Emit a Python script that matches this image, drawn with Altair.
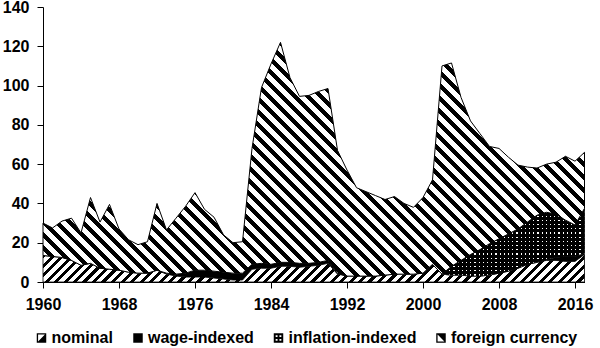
import altair as alt
import pandas as pd

# ---------------- data ----------------
years = list(range(1960, 2018))

# top of the whole stack (total)
total = [30, 27.5, 31, 32.5, 25, 43, 30.5, 39.5, 27, 21.5,
         19, 20.5, 40, 26.5, 32.5, 38.5, 45.5, 37, 33, 24,
         20, 20.5, 68, 99, 111, 122, 104, 94.5, 95, 97,
         98.5, 67, 57, 48, 46, 44, 42, 43.5, 40, 38,
         43, 52, 110, 111.5, 94, 82, 75.5, 69, 68, 63.5,
         59.5, 58.5, 58, 60, 61, 64, 61.5, 66]

nominal = [13.5, 13, 12.5, 11, 8.5, 9.5, 7, 6.5, 6, 5,
           4.5, 4.5, 6, 4, 3, 2.5, 2.5, 2.5, 2, 1.5,
           1, 1, 6.5, 7, 7, 8, 8, 7.5, 8, 8.5,
           9.5, 4, 3, 3, 3, 3, 3.5, 4, 4, 4,
           4.5, 9, 4, 3.5, 3.5, 3, 3, 3.5, 4.5, 5.5,
           7, 9, 10, 11, 11, 10.5, 10.5, 14]

wage = [0, 0, 0, 0, 0, 0, 0, 0, 0, 0,
        0, 0, 0, 0.5, 1, 2, 3.5, 3.5, 3.5, 3.5,
        3.5, 3.5, 2.5, 2.5, 2, 2, 2, 2, 1.5, 1.5,
        1.5, 0.5, 0, 0, 0, 0, 0, 0, 0, 0,
        0, 0, 0, 0, 0, 0, 0, 0, 0, 0,
        0, 0, 0, 0.5, 1.5, 2.5, 2.5, 0.5]

infl_years = list(range(2002, 2018))
inflation = [0, 4.5, 7.5, 11, 13.5, 16, 17.5, 19, 20, 21.5, 24, 24, 22, 18.5, 16, 23]

series_names = ["nominal", "wage-indexed", "inflation-indexed", "foreign currency"]
y_ticks = [0, 20, 40, 60, 80, 100, 120, 140]
x_ticks = [1960, 1968, 1976, 1984, 1992, 2000, 2008, 2016]

# ---------------- long table ----------------
infl_map = dict(zip(infl_years, inflation))
rows = []
for i, yr in enumerate(years):
    iv = infl_map.get(yr, 0)
    foreign = total[i] - nominal[i] - wage[i] - iv
    rows.append(dict(year=yr, series="nominal", value=nominal[i], order=0))
    rows.append(dict(year=yr, series="wage-indexed", value=wage[i], order=1))
    if yr in infl_map:
        rows.append(dict(year=yr, series="inflation-indexed", value=iv, order=2))
    rows.append(dict(year=yr, series="foreign currency", value=foreign, order=3))
df = pd.DataFrame(rows)

# ---------------- layout ----------------
PW, PH = 541.5, 275.0
YMAX = 140.0
XMIN, XMAX = 1960, 2017


def px_h(v):
    return v * PH / YMAX


def px_w(y0, y1):
    return (y1 - y0) * PW / (XMAX - XMIN)


# bounding boxes of each area (for sizing hatch gradients)
stack_low_foreign = [nominal[i] + wage[i] + infl_map.get(y, 0) for i, y in enumerate(years)]
foreign_W = px_w(years[0], years[-1])
foreign_H = px_h(max(total) - min(stack_low_foreign))
nominal_W = foreign_W
nominal_H = px_h(max(nominal))
infl_low = [nominal[years.index(y)] + wage[years.index(y)] for y in infl_years]
infl_high = [infl_low[k] + inflation[k] for k in range(len(infl_years))]
infl_W = px_w(infl_years[0], infl_years[-1])
infl_H = px_h(max(infl_high) - min(infl_low))

BLACK = "#000000"
WHITE = "#ffffff"
CLEAR = "rgba(0,0,0,0)"


def stripe_stops(n, frac, c1, c2):
    stops = []
    k = 0
    while k < n:
        a = k / n
        b = min((k + frac) / n, 1.0)
        c = min((k + 1) / n, 1.0)
        stops += [(a, c1), (b, c1), (b, c2), (c, c2)]
        k += 1
    return [alt.GradientStop(offset=round(o, 5), color=col) for o, col in stops]


def hatch(w, h, period, frac, kind):
    s = (w + h) / (w * w + h * h)
    n = (w + h) / period
    if kind == "down":  # "\" stripes
        x1, y1, x2, y2 = 0, 1, s * w, 1 - s * h
    else:  # "/" stripes
        x1, y1, x2, y2 = 0, 0, s * w, s * h
    return alt.LinearGradient(gradient="linear", x1=x1, y1=y1, x2=x2, y2=y2,
                              stops=stripe_stops(n, frac, BLACK, WHITE))


def hlines(h, period, frac):
    return alt.LinearGradient(gradient="linear", x1=0, y1=0, x2=0, y2=1,
                              stops=stripe_stops(h / period, frac, BLACK, WHITE))


def vgaps(w, period, frac):
    return alt.LinearGradient(gradient="linear", x1=0, y1=0, x2=1, y2=0,
                              stops=stripe_stops(w / period, frac, BLACK, CLEAR))


fill_nominal = hatch(nominal_W, nominal_H, 9.5, 0.45, "up")
fill_foreign = hatch(foreign_W, foreign_H, 13.0, 0.45, "down")
fill_inf_a = hlines(infl_H, 4.2, 0.72)
fill_inf_b = vgaps(infl_W, 4.2, 0.72)

FONT = "Liberation Sans"
FS = 16

x_scale = alt.Scale(domain=[XMIN, XMAX], nice=False, zero=False)
y_scale = alt.Scale(domain=[0, YMAX], nice=False)

x_axis = alt.Axis(values=x_ticks, format="d", title=None, grid=False,
                  labelFont=FONT, labelFontSize=FS, labelFontWeight="bold",
                  labelColor="black", tickColor="black", domainColor="black",
                  tickSize=6, labelPadding=8, labelFlush=False)
y_axis = alt.Axis(values=y_ticks, title=None, grid=False,
                  labelFont=FONT, labelFontSize=FS, labelFontWeight="bold",
                  labelColor="black", tickColor="black", domainColor="black",
                  tickSize=6, labelPadding=8)

base = alt.Chart(df).transform_stack(
    stack="value", groupby=["year"], as_=["v0", "v1"],
    sort=[alt.SortField("order", order="ascending")]
)


def layer(name, fill, stroke=None, sw=0):
    kw = dict(fill=fill, opacity=1, interpolate="linear")
    if stroke:
        kw.update(stroke=stroke, strokeWidth=sw, strokeJoin="miter")
    return base.transform_filter(alt.datum.series == name).mark_area(**kw).encode(
        x=alt.X("year:Q", scale=x_scale, axis=x_axis),
        y=alt.Y("v1:Q", scale=y_scale, axis=y_axis),
        y2="v0:Q",
    )


l_nom = layer("nominal", fill_nominal, "black", 0.8)
l_wage = layer("wage-indexed", "black")
l_inf_a = layer("inflation-indexed", fill_inf_a, "black", 0.8)
l_inf_b = layer("inflation-indexed", fill_inf_b)
l_for = layer("foreign currency", fill_foreign, "black", 1)

# legend (custom swatch shapes)
ring = "M-1,-1L1,-1L1,1L-1,1Z M-0.72,-0.72L-0.72,0.72L0.72,0.72L0.72,-0.72Z "
paths = [
    ring + "M0.72,-0.72L0.72,0.72L-0.72,0.72Z",
    "M-1,-1L1,-1L1,1L-1,1Z",
    "M-1,-1L1,-1L1,1L-1,1Z M-0.6,-0.6L-0.6,-0.2L-0.2,-0.2L-0.2,-0.6Z "
    "M0.2,-0.6L0.2,-0.2L0.6,-0.2L0.6,-0.6Z M-0.6,0.2L-0.6,0.6L-0.2,0.6L-0.2,0.2Z "
    "M0.2,0.2L0.2,0.6L0.6,0.6L0.6,0.2Z",
    ring + "M-0.72,-0.72L0.72,-0.72L0.72,0.72Z",
]
leg_df = pd.DataFrame({"series": series_names})
l_leg = alt.Chart(leg_df).transform_filter("false").mark_point(
    filled=True, color="black", opacity=1
).encode(
    shape=alt.Shape("series:N", scale=alt.Scale(domain=series_names, range=paths),
                    legend=alt.Legend(orient="none", legendX=-9.5, legendY=323,
                                      direction="horizontal", title=None,
                                      labelFont=FONT, labelFontSize=FS,
                                      labelFontWeight="bold", labelColor="black",
                                      symbolSize=90, symbolStrokeWidth=0,
                                      symbolFillColor="black",
                                      labelOffset=2, columnPadding=16.5,
                                      padding=0, labelLimit=400))
)

chart = alt.layer(l_nom, l_wage, l_inf_a, l_inf_b, l_for, l_leg).properties(
    width=PW, height=PH,
    autosize=alt.AutoSizeParams(type="none"),
    padding={"left": 43, "top": 7, "right": 15.5, "bottom": 66},
    background="white",
).configure_view(stroke=None).resolve_scale(shape="independent")

chart.save("out.html", embed_options={"renderer": "svg", "actions": False})
